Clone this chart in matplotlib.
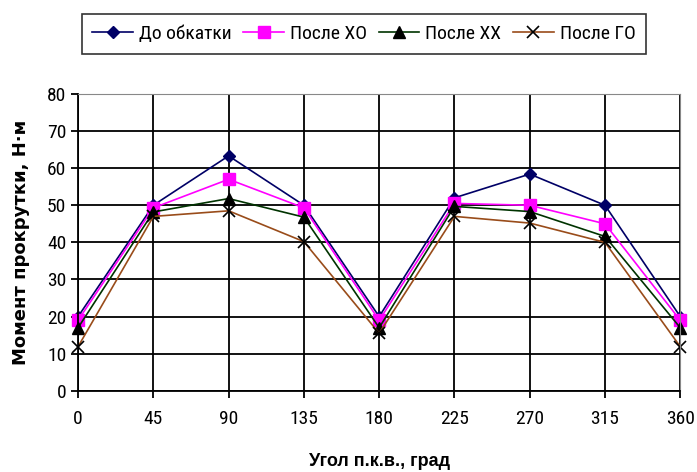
import matplotlib
matplotlib.use("Agg")
import matplotlib.pyplot as plt
from matplotlib import font_manager

names = {f.name for f in font_manager.fontManager.ttflist}
narrow = 'Liberation Sans'
for cand in ['Liberation Sans Narrow', 'Roboto Condensed', 'Open Sans Condensed', 'DejaVu Sans Condensed']:
    if cand in names:
        narrow = cand
        break
plt.rcParams['font.family'] = [narrow, 'DejaVu Sans']

angles = [0, 45, 90, 135, 180, 225, 270, 315, 360]
do_obkatki = [20, 50, 63.3, 50, 20, 52, 58.4, 50, 20]
posle_xo = [19, 49.3, 57, 49.3, 19, 50.5, 50, 45, 19]
posle_xx = [17, 48.2, 51.8, 46.8, 17, 49.7, 48.3, 41.6, 17]
posle_go = [11.9, 47, 48.5, 40.2, 15.5, 47, 45.2, 40, 11.9]

fig = plt.figure(figsize=(6.97, 4.72), dpi=100)
ax = fig.add_axes([0.112, 0.172, 0.864, 0.629])

l1, = ax.plot(angles, do_obkatki, color='#000066', lw=1.2, marker='D', ms=6,
              mfc='#000066', mec='#000066', label='До обкатки')
l2, = ax.plot(angles, posle_xo, color='#ff00ff', lw=1.2, marker='s', ms=8,
              mfc='#ff00ff', mec='#ff00ff', label='После ХО')
l3, = ax.plot(angles, posle_xx, color='#003300', lw=1.2, marker='^', ms=8,
              mfc='black', mec='black', label='После ХХ')
l4, = ax.plot(angles, posle_go, color='#994c1a', lw=1.2, marker='x', ms=9,
              mew=1.2, mfc='black', mec='black', label='После ГО')

ax.set_xlim(0, 360)
ax.set_ylim(0, 80)
ax.set_xticks(angles)
ax.set_yticks(range(0, 81, 10))
ax.grid(True, color='black', lw=1.3)
ax.set_axisbelow(True)
for s in ['top', 'right']:
    ax.spines[s].set_color('#888888')
for s in ['left', 'bottom']:
    ax.spines[s].set_color('black')
    ax.spines[s].set_linewidth(1.3)
ax.tick_params(axis='both', labelsize=14, length=5, width=1.3, direction='out')
ax.tick_params(axis='x', pad=9)
for l in (l1, l2, l3, l4):
    l.set_clip_on(False)

ax.set_xlabel('Угол п.к.в., град', fontsize=13, fontweight='bold', labelpad=18,
              family=['Liberation Sans', 'DejaVu Sans'])
ax.set_ylabel('Момент прокрутки, Н·м', fontsize=13, fontweight='bold', labelpad=12,
              family=['DejaVu Sans'])

leg = fig.legend(handles=[l1, l2, l3, l4], loc='center', bbox_to_anchor=(0.522, 0.928),
                 ncol=4, fontsize=14, frameon=True, fancybox=False, edgecolor='black',
                 handlelength=2.1, handletextpad=0.3, columnspacing=0.6, borderpad=0.55)
leg.get_frame().set_linewidth(1.2)

fig.savefig('out.png', dpi=100, facecolor='white')
